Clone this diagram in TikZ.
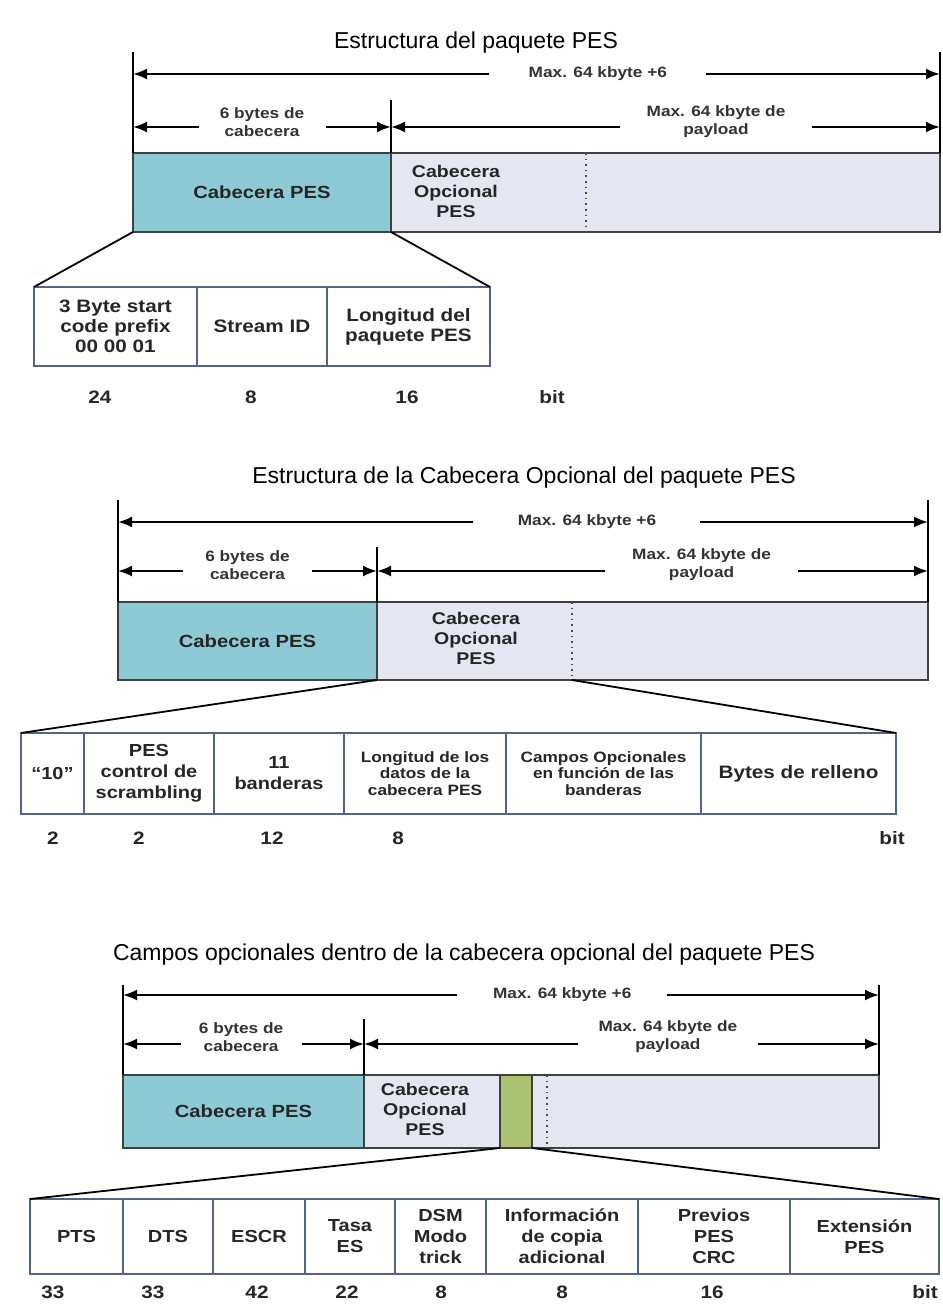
\documentclass[tikz,border=0pt]{standalone}
\usepackage{fontspec}
\setmainfont{Liberation Sans}
\newfontfamily\widefont[FakeStretch=1.15]{Liberation Sans}
\usetikzlibrary{positioning, arrows.meta}
\definecolor{pesblue}{RGB}{141,202,214}
\definecolor{optgray}{RGB}{228,230,241}
\definecolor{flaggreen}{RGB}{169,193,112}
\definecolor{cellline}{RGB}{84,100,136}
\tikzset{
x=0.5pt, y=-0.5pt, % one unit is one pixel of the sheet, counted downwards
>={Latex[length=7pt,width=5.5pt]}, % solid arrow heads
heading/.style={font=\fontsize{11.5}{13}\selectfont}, % title of each part
dim/.style={<->, line width=1.1pt}, % size arrows
dimlabel/.style={fill=white, inner sep=0pt, minimum height=19pt, align=center, text=black!80, font=\widefont\bfseries\fontsize{7.5}{9}\selectfont},
vline/.style={line width=0.9pt}, % upright marks of the size arrows
pesbox/.style={draw=black!75, line width=1pt, fill=pesblue, outer sep=0pt, anchor=north west, text=black!85, font=\widefont\bfseries\fontsize{8.8}{10}\selectfont},
optbox/.style={draw=black!75, line width=1pt, fill=optgray, outer sep=0pt},
opttext/.style={align=center, text=black!85, font=\widefont\bfseries\fontsize{8.5}{10}\selectfont},
dotline/.style={dotted, line width=0.8pt, black!70},
zoomline/.style={line width=0.9pt}, % lines to the detail row
cell/.style={draw=cellline, line width=1pt, fill=white, outer sep=0pt, inner sep=1pt, align=center, text=black!85, font=\widefont\bfseries\fontsize{8.7}{10.5}\selectfont},
small/.style={font=\widefont\bfseries\fontsize{7.5}{8.3}\selectfont},
bits/.style={text=black!85, font=\widefont\bfseries\fontsize{9}{10}\selectfont},
}
\begin{document}
\begin{tikzpicture}
\useasboundingbox[fill=white] (0,0) rectangle (942,1304);

% --- part 1: packet
\node[heading] (ttl1) at (476,43) {Estructura del paquete PES};
\coordinate (top1l) at (133,52);
\coordinate (top1r) at (940,52);
\coordinate (top1d) at (391,100);
\coordinate (a1l) at (133,74);
\coordinate (a1r) at (940,74);
\coordinate (b1l) at (133,127);
\coordinate (b1d) at (391,127);
\coordinate (b1r) at (940,127);
\node[pesbox, minimum width=129pt, minimum height=39.5pt] (pes1) at (133,153) {Cabecera PES};
\node[optbox, minimum width=274.5pt, minimum height=39.5pt, right=0pt of pes1] (opt1) {};
\node[opttext] (opt1t) at (456,191) {Cabecera\\Opcional\\PES};
\coordinate (dot1) at (586,153);
\draw[dotline] (dot1) -- (dot1 |- opt1.south);
\draw[vline] (top1l) -- (pes1.north west);
\draw[vline] (top1r) -- (opt1.north east);
\draw[vline] (top1d) -- (pes1.north east);
\draw[dim] (a1l) -- node[dimlabel, pos=0.576, minimum width=108.5pt] {Max. 64 kbyte +6} (a1r);
\draw[dim] (b1l) -- node[dimlabel, minimum width=63.5pt, yshift=2.5pt] {6 bytes de\\cabecera} (b1d);
\draw[dim] (b1d) -- node[dimlabel, pos=0.592, minimum width=96pt, yshift=2.5pt] {Max. 64 kbyte de\\payload} (b1r);

\node[cell, minimum width=81.5pt, minimum height=39.5pt, anchor=north west, font=\widefont\bfseries\fontsize{9}{10}\selectfont] (p1) at (34,287) {3 Byte start\\code prefix\\00 00 01};
\node[cell, minimum width=65pt, minimum height=39.5pt, right=0pt of p1, font=\widefont\bfseries\fontsize{9}{10}\selectfont] (p2) {Stream ID};
\node[cell, minimum width=81.5pt, minimum height=39.5pt, right=0pt of p2, font=\widefont\bfseries\fontsize{9}{10}\selectfont] (p3) {Longitud del\\paquete PES};
\draw[zoomline] (pes1.south west) -- (p1.north west);
\draw[zoomline] (pes1.south east) -- (p3.north east);
\node[bits] (n11) at (100,397) {24};
\node[bits] (n12) at (251,397) {8};
\node[bits] (n13) at (407,397) {16};
\node[bits] (n14) at (552,397) {bit};

% --- part 2: optional header
\node[heading] (ttl2) at (524,478) {Estructura de la Cabecera Opcional del paquete PES};
\coordinate (top2l) at (118,500);
\coordinate (top2r) at (928,500);
\coordinate (top2d) at (377,547);
\coordinate (a2l) at (118,522);
\coordinate (a2r) at (928,522);
\coordinate (b2l) at (118,571);
\coordinate (b2d) at (377,571);
\coordinate (b2r) at (928,571);
\node[pesbox, minimum width=129.5pt, minimum height=39pt] (pes2) at (118,602) {Cabecera PES};
\node[optbox, minimum width=275.5pt, minimum height=39pt, right=0pt of pes2] (opt2) {};
\node[opttext] (opt2t) at (476,638) {Cabecera\\Opcional\\PES};
\coordinate (dot2) at (572,602);
\coordinate (dot2b) at (dot2 |- opt2.south);
\draw[dotline] (dot2) -- (dot2b);
\draw[vline] (top2l) -- (pes2.north west);
\draw[vline] (top2r) -- (opt2.north east);
\draw[vline] (top2d) -- (pes2.north east);
\draw[dim] (a2l) -- node[dimlabel, pos=0.579, minimum width=113.5pt] {Max. 64 kbyte +6} (a2r);
\draw[dim] (b2l) -- node[dimlabel, minimum width=64.5pt, yshift=3pt] {6 bytes de\\cabecera} (b2d);
\draw[dim] (b2d) -- node[dimlabel, pos=0.589, minimum width=96.5pt, yshift=3pt] {Max. 64 kbyte de\\payload} (b2r);

\node[cell, minimum width=31.5pt, minimum height=40.5pt, anchor=north west] (h1) at (21,733) {“10”};
\node[cell, minimum width=65pt, minimum height=40.5pt, right=0pt of h1] (h2) {PES\\control de\\scrambling};
\node[cell, minimum width=65pt, minimum height=40.5pt, right=0pt of h2] (h3) {11\\banderas};
\node[cell, small, minimum width=81pt, minimum height=40.5pt, right=0pt of h3] (h4) {Longitud de los\\datos de la\\cabecera PES};
\node[cell, small, minimum width=97.5pt, minimum height=40.5pt, right=0pt of h4] (h5) {Campos Opcionales\\en función de las\\banderas};
\node[cell, minimum width=97.5pt, minimum height=40.5pt, right=0pt of h5, font=\widefont\bfseries\fontsize{9}{10}\selectfont] (h6) {Bytes de relleno};
\draw[zoomline] (pes2.south east) -- (h1.north west);
\draw[zoomline] (dot2b) -- (h6.north east);
\node[bits] (n21) at (53,838) {2};
\node[bits] (n22) at (139,838) {2};
\node[bits] (n23) at (272,838) {12};
\node[bits] (n24) at (398,838) {8};
\node[bits] (n25) at (892,838) {bit};

% --- part 3: optional fields
\node[heading] (ttl3) at (464,955) {Campos opcionales dentro de la cabecera opcional del paquete PES};
\coordinate (top3l) at (123,985);
\coordinate (top3r) at (879,985);
\coordinate (top3d) at (364,1019);
\coordinate (a3l) at (123,995);
\coordinate (a3r) at (879,995);
\coordinate (b3l) at (123,1044);
\coordinate (b3d) at (364,1044);
\coordinate (b3r) at (879,1044);
\node[pesbox, minimum width=120.5pt, minimum height=36.5pt] (pes3) at (123,1075) {Cabecera PES};
\node[optbox, minimum width=257.5pt, minimum height=36.5pt, right=0pt of pes3] (opt3) {};
\node[opttext] (opt3t) at (425,1109) {Cabecera\\Opcional\\PES};
\node[draw=black!75, line width=1pt, fill=flaggreen, outer sep=0pt, anchor=north west, minimum width=16pt, minimum height=36.5pt] (g3) at (500,1075) {};
\coordinate (dot3) at (547,1075);
\draw[dotline] (dot3) -- (dot3 |- opt3.south);
\draw[vline] (top3l) -- (pes3.north west);
\draw[vline] (top3r) -- (opt3.north east);
\draw[vline] (top3d) -- (pes3.north east);
\draw[dim] (a3l) -- node[dimlabel, pos=0.581, minimum width=105pt] {Max. 64 kbyte +6} (a3r);
\draw[dim] (b3l) -- node[dimlabel, pos=0.49, minimum width=60.5pt, yshift=3.5pt] {6 bytes de\\cabecera} (b3d);
\draw[dim] (b3d) -- node[dimlabel, pos=0.59, minimum width=90pt, yshift=3.5pt] {Max. 64 kbyte de\\payload} (b3r);

\node[cell, minimum width=46.5pt, minimum height=37.5pt, anchor=north west] (f1) at (30,1199) {PTS};
\node[cell, minimum width=45pt, minimum height=37.5pt, right=0pt of f1] (f2) {DTS};
\node[cell, minimum width=46pt, minimum height=37.5pt, right=0pt of f2] (f3) {ESCR};
\node[cell, minimum width=45pt, minimum height=37.5pt, right=0pt of f3] (f4) {Tasa\\ES};
\node[cell, minimum width=45.5pt, minimum height=37.5pt, right=0pt of f4] (f5) {DSM\\Modo\\trick};
\node[cell, minimum width=76pt, minimum height=37.5pt, right=0pt of f5] (f6) {Información\\de copia\\adicional};
\node[cell, minimum width=76pt, minimum height=37.5pt, right=0pt of f6] (f7) {Previos\\PES\\CRC};
\node[cell, minimum width=74.5pt, minimum height=37.5pt, right=0pt of f7] (f8) {Extensión\\PES};
\draw[zoomline] (g3.south west) -- (f1.north west);
\draw[zoomline] (g3.south east) -- (f8.north east);
\node[bits] (n31) at (53,1292) {33};
\node[bits] (n32) at (153,1292) {33};
\node[bits] (n33) at (257,1292) {42};
\node[bits] (n34) at (347,1292) {22};
\node[bits] (n35) at (441,1292) {8};
\node[bits] (n36) at (562,1292) {8};
\node[bits] (n37) at (712,1292) {16};
\node[bits] (n38) at (925,1292) {bit};
\end{tikzpicture}
\end{document}
